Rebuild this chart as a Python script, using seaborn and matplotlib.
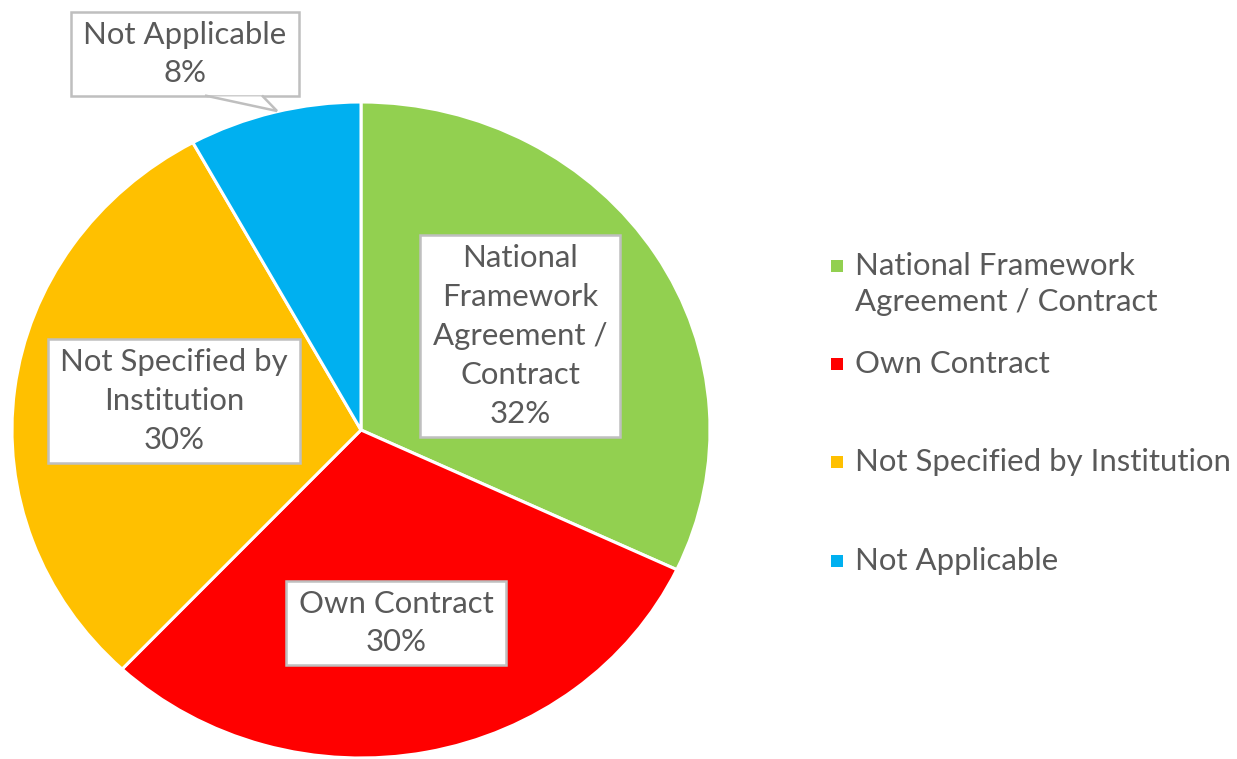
import matplotlib
matplotlib.use("Agg")
import matplotlib.pyplot as plt
from matplotlib.patches import Polygon, Rectangle
from matplotlib.transforms import IdentityTransform
import seaborn as sns

# ---- data ----
categories = ["National Framework Agreement / Contract", "Own Contract",
              "Not Specified by Institution", "Not Applicable"]
values = [32, 30, 30, 8]
slice_labels = ["National\nFramework\nAgreement /\nContract", "Own Contract",
                "Not Specified by\nInstitution", "Not Applicable"]
legend_labels = ["National Framework\nAgreement / Contract", "Own Contract",
                 "Not Specified by Institution", "Not Applicable"]
colors = ["#92D050", "#FF0000", "#FFC000", "#00B0F0"]

sns.set_theme(style="white")
plt.rcParams['font.family'] = ['Lato', 'DejaVu Sans']

W, H = 1237, 759
fig = plt.figure(figsize=(W / 100, H / 100), dpi=100)
fig.patch.set_facecolor("white")

# pie area in pixels (ellipse, as in the reference)
cx, cy, rx, ry = 361, 430, 349, 328
ax = fig.add_axes([(cx - rx) / W, (H - (cy + ry)) / H, 2 * rx / W, 2 * ry / H])
ax.pie(values, colors=sns.color_palette(colors), startangle=90, counterclock=False,
       radius=1.0, wedgeprops=dict(edgecolor="white", linewidth=2.2))
ax.set_aspect("auto")
ax.set_xlim(-1, 1)
ax.set_ylim(-1, 1)
ax.axis("off")

def px2data(px, py):
    return (px - cx) / rx, (cy - py) / ry

text_color = "#595959"
edge_color = "#BFBFBF"
fs = 22.4
label_centers_px = [(520, 336), (396, 623), (174, 401), (185, 54)]
texts = []
for lab, v, (px, py) in zip(slice_labels, values, label_centers_px):
    x, y = px2data(px, py)
    t = ax.text(x, y, f"{lab}\n{v}%", ha="center", va="center", fontsize=fs,
                color=text_color, linespacing=1.47, clip_on=False, zorder=5)
    texts.append(t)

fig.canvas.draw()
renderer = fig.canvas.get_renderer()
pad_x, pad_y = 12.5, 9
boxes = []
for t in texts:
    bb = t.get_window_extent(renderer)
    r = Rectangle((bb.x0 - pad_x, bb.y0 - pad_y), bb.width + 2 * pad_x, bb.height + 2 * pad_y,
                  transform=IdentityTransform(), fc="white", ec=edge_color, lw=1.8,
                  clip_on=False, zorder=4)
    ax.add_patch(r)
    boxes.append(r)

# callout pointer for the small slice label (display pixels, y up)
rb = boxes[3]
base_y = rb.get_y()
tip = (277, H - 111)
left_base = (205, base_y)
right_base = (262, base_y)
ax.add_patch(Polygon([left_base, tip, right_base], closed=True, fc="white", ec="none",
                     transform=IdentityTransform(), clip_on=False, zorder=4.5))
ax.add_patch(Polygon([(left_base[0], base_y + 0.9), tip, (right_base[0], base_y + 0.9)],
                     closed=False, fill=False, ec=edge_color, lw=1.8,
                     transform=IdentityTransform(), clip_on=False, zorder=4.6))

# ---- legend (manual, Excel style) ----
leg_x_marker = 837
leg_x_text = 855
leg_y0 = 266
leg_step = 98.2
line_step = 36
for i, (lab, col) in enumerate(zip(legend_labels, colors)):
    y = leg_y0 + i * leg_step
    fig.patches.append(Rectangle(((leg_x_marker - 6) / W, (H - y - 6) / H), 12 / W, 12 / H,
                                 transform=fig.transFigure, fc=col, ec="none"))
    for j, line in enumerate(lab.split("\n")):
        fig.text(leg_x_text / W, (H - y - j * line_step) / H, line, ha="left",
                 va="center", fontsize=fs, color=text_color)

fig.savefig("out.png", dpi=100)
